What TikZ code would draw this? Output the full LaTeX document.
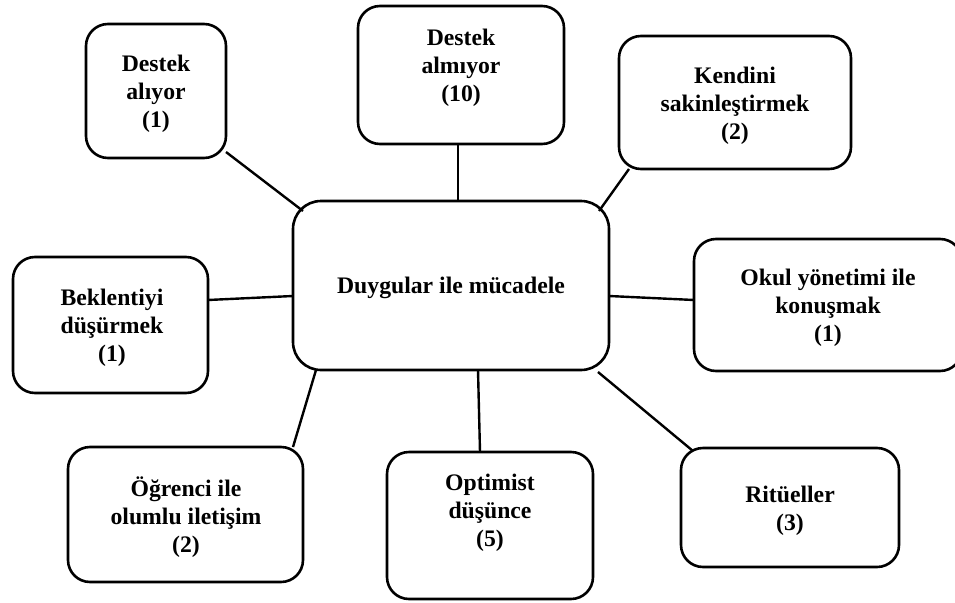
\documentclass[tikz,border=0pt]{standalone}
\usepackage{fontspec}
\setmainfont{Liberation Serif}
\usetikzlibrary{calc}
\begin{document}
\begin{tikzpicture}[x=1pt,y=-1pt,
  box/.style={draw, line width=2.6pt, rounded corners=22pt, inner sep=0pt, outer sep=0pt},
  lbl/.style={align=center, font=\fontsize{23.7}{28}\selectfont\bfseries, inner sep=0pt},
  link/.style={line width=2.4pt}]
\useasboundingbox (0,0) rectangle (955,602);
\clip (0,0) rectangle (955,602);

% central theme
\node[box, rounded corners=28pt, minimum width=316pt, minimum height=169pt] (mid) at (451,285.5) {};
\node[lbl] (midT) at (451,288) {Duygular ile mücadele};

% surrounding strategies
\node[box, minimum width=140pt, minimum height=134pt] (al) at (156,91) {};
\node[lbl] (alT) at (156,94) {Destek\\alıyor\\(1)};

\node[box, minimum width=206pt, minimum height=138pt] (am) at (461,75) {};
\node[lbl] (amT) at (461,68) {Destek\\almıyor\\(10)};

\node[box, minimum width=232pt, minimum height=133pt] (ke) at (735,102.5) {};
\node[lbl] (keT) at (735,106) {Kendini\\sakinleştirmek\\(2)};

\node[box, minimum width=195pt, minimum height=136pt] (bk) at (110.5,325) {};
\node[lbl] (bkT) at (112,328) {Beklentiyi\\düşürmek\\(1)};

\node[box, minimum width=268pt, minimum height=132pt] (ok) at (828,305) {};
\node[lbl] (okT) at (828,308) {Okul yönetimi ile\\konuşmak\\(1)};

\node[box, minimum width=235pt, minimum height=135pt] (og) at (185.5,514.5) {};
\node[lbl] (ogT) at (186,517) {Öğrenci ile\\olumlu iletişim\\(2)};

\node[box, minimum width=206pt, minimum height=147pt] (op) at (490,525.5) {};
\node[lbl] (opT) at (490,513) {Optimist\\düşünce\\(5)};

\node[box, minimum width=218pt, minimum height=119pt] (ri) at (790,507.5) {};
\node[lbl] (riT) at (790,510.5) {Ritüeller\\(3)};

% connectors
\draw[link] ($(al.east)+(0,61)$) -- ($(mid.north west)+(10,10)$);
\draw[link] ($(am.south)+(-3,0)$) -- ($(mid.north)+(7,0)$);
\draw[link] ($(ke.south west)+(10,0)$) -- ($(mid.north east)+(-10,10)$);
\draw[link] ($(bk.east)+(0,-25)$) -- ($(mid.west)+(0,10.5)$);
\draw[link] ($(mid.east)+(0,10.5)$) -- ($(ok.west)+(0,-5)$);
\draw[link] ($(mid.south west)+(23,0)$) -- ($(og.north east)+(-10,0)$);
\draw[link] ($(mid.south)+(27,0)$) -- ($(op.north)+(-10,0)$);
\draw[link] ($(mid.south east)+(-11,2)$) -- ($(ri.north west)+(12,3)$);
\end{tikzpicture}
\end{document}
